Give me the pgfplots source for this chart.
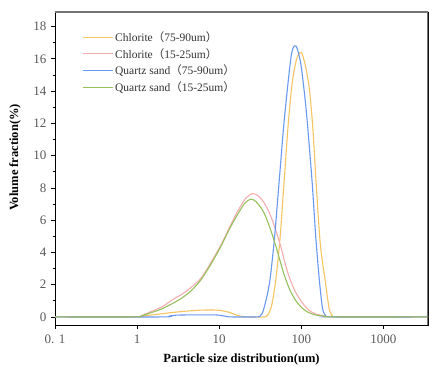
\documentclass[border=0pt]{standalone}
\usepackage{pgfplots}
\pgfplotsset{compat=1.18}
\usepackage{fontspec}
\setmainfont{Liberation Serif}
\newfontfamily\cjk{Noto Sans CJK SC}
\definecolor{corange}{RGB}{244,196,98}
\definecolor{cpink}{RGB}{244,172,176}
\definecolor{cblue}{RGB}{104,152,240}
\definecolor{cgreen}{RGB}{150,192,92}
\newcommand{\lp}{{\cjk （}}
\newcommand{\rp}{{\cjk ）}}
\begin{document}
\begin{tikzpicture}
\begin{axis}[
  scale only axis, width=373pt, height=313pt,
  xmode=log, xmin=0.1, xmax=3500, ymin=-0.5, ymax=18.9,
  log basis x=10,
  xtick={0.1,1,10,100,1000}, xticklabels={0. 1,1,10,100,1000},
  ytick={0,2,...,18}, minor y tick num=1,
  tick align=outside, xtick pos=bottom, ytick pos=left,
  major tick length=4pt, minor tick length=2.5pt,
  tick style={black, line width=0.6pt},
  axis line style={black, line width=0.8pt},
  /pgf/number format/assume math mode=true,
  ticklabel style={font=\fontsize{13}{15}\selectfont, text=black!65},
  xticklabel style={yshift=-2pt},
  yticklabel style={xshift=-1pt},
  xlabel={\textbf{Particle size distribution(um)}},
  ylabel={\textbf{Volume fraction(\%)}},
  label style={font=\fontsize{12.5}{14}\selectfont},
  x label style={at={(axis description cs:0.5,0)}, anchor=center, yshift=-34.5pt},
  y label style={at={(axis description cs:-0.107,0.535)}, anchor=center},
  legend style={at={(axis description cs:0.072,0.945)}, anchor=north west, draw=none, fill=none,
    font=\fontsize{11.5}{13}\selectfont, text=black!80, row sep=1.5pt, inner sep=0pt},
  legend cell align=left,
  legend image code/.code={\draw[#1] (0pt,0pt) -- (30pt,0pt);},
  every axis plot/.append style={line width=1.1pt, smooth, tension=0.45, no markers},
]
\addplot[corange] coordinates {
(0.1,0) (0.9,0) (1.2,0.06) (2,0.2) (3,0.3) (4,0.36) (6,0.42) (8,0.43) (10,0.41) (13,0.3) (16,0.13) (19,0.03) (23,0) (36,0) (40,0.2) (44,0.8) (49,2.3) (55,4.8) (62,8.5) (70,12.2) (78,14.6) (88,16.0) (100,16.4) (112,15.6) (125,14.2) (138,11.8) (151,8.5) (170,4.6) (195,2.3) (219,0.5) (240,0.08) (265,0) (3500,0)};
\addlegendentry{Chlorite\lp 75-90um\rp}
\addplot[cpink] coordinates {
(0.1,0) (0.9,0) (1.1,0.06) (1.4,0.28) (2,0.62) (2.7,1.06) (4,1.6) (6,2.4) (8,3.4) (10.5,4.45) (13.5,5.6) (17,6.6) (21,7.35) (25.5,7.65) (30,7.5) (35,7.1) (41,6.45) (48,5.5) (56,4.4) (63,3.4) (71,2.5) (84,1.6) (99,1.0) (112,0.65) (125,0.4) (150,0.18) (200,0.05) (260,0) (3500,0)};
\addlegendentry{Chlorite\lp 15-25um\rp}
\addplot[cblue] coordinates {
(0.1,0) (2,0) (2.5,0.06) (3,0.11) (5,0.13) (8,0.13) (10,0.11) (12,0.04) (14,0) (29,0) (32,0.1) (34,0.3) (37.5,1.1) (41.6,2.3) (47,4.8) (54,8.5) (61,11.8) (68,14.2) (75,16.1) (80,16.7) (86,16.8) (92,16.4) (100,15.5) (115,12.8) (135,8.5) (150,5.0) (166,2.3) (182,0.5) (200,0.05) (220,0) (3500,0)};
\addlegendentry{Quartz sand\lp 75-90um\rp}
\addplot[cgreen] coordinates {
(0.1,0) (0.9,0) (1.1,0.04) (1.4,0.22) (2,0.5) (3.25,1.06) (4.5,1.6) (6,2.3) (8,3.3) (10.5,4.37) (13.5,5.5) (17,6.4) (20.5,7.05) (24.4,7.3) (28,7.15) (33,6.7) (37,6.2) (43,5.3) (49,4.4) (55,3.5) (62,2.6) (73,1.65) (86,1.0) (100,0.6) (120,0.3) (150,0.12) (200,0.03) (250,0) (3500,0)};
\addlegendentry{Quartz sand\lp 15-25um\rp}
\draw[black!55, line width=1.6pt] (rel axis cs:0,1) -- (rel axis cs:1,1) -- (rel axis cs:1,0);
\end{axis}
\pgfresetboundingbox
\path (current axis.south west) ++(-55pt,-41pt) rectangle ++(430pt,366pt);
\end{tikzpicture}
\end{document}
